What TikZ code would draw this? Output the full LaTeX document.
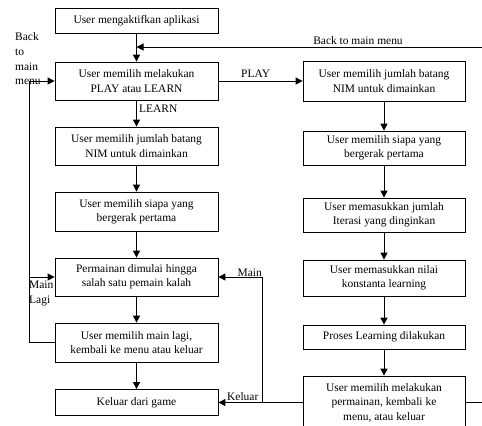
\documentclass[tikz,border=0pt]{standalone}
\usepackage{fontspec}
\setmainfont{Liberation Serif}
\usetikzlibrary{arrows.meta}
\begin{document}
\begin{tikzpicture}[x=1bp,y=-1bp,
  box/.style={draw,line width=0.8bp,inner sep=0pt,align=center,font=\fontsize{11.5}{14.5}\selectfont},
  lbl/.style={inner sep=0pt,font=\fontsize{11.5}{14}\selectfont},
  conn/.style={line width=1bp},
  arr/.style={conn,-{Triangle[length=7bp,width=7bp]}}]
\useasboundingbox[fill=white] (0,0) rectangle (482,425);
% left column
\node[box,minimum width=163bp,minimum height=25bp] (b1) at (136.5,20.5) {User mengaktifkan aplikasi};
\node[box,minimum width=163bp,minimum height=38bp] (b2) at (136.5,81) {User memilih melakukan\\PLAY atau LEARN};
\node[box,minimum width=163bp,minimum height=38bp] (b3) at (136.5,146) {User memilih jumlah batang\\NIM untuk dimainkan};
\node[box,minimum width=163bp,minimum height=39bp] (b4) at (136.5,211.5) {User memilih siapa yang\\bergerak pertama};
\node[box,minimum width=163bp,minimum height=38bp] (b5) at (136.5,277) {Permainan dimulai hingga\\salah satu pemain kalah};
\node[box,minimum width=163bp,minimum height=39bp] (b6) at (136.5,342.5) {User memilih main lagi,\\kembali ke menu atau keluar};
\node[box,minimum width=163bp,minimum height=26bp] (b7) at (136.5,402.5) {Keluar dari game};
% right column
\node[box,minimum width=162bp,minimum height=40bp] (r1) at (384,81) {User memilih jumlah batang\\NIM untuk dimainkan};
\node[box,minimum width=162bp,minimum height=34bp] (r2) at (384,148) {User memilih siapa yang\\bergerak pertama};
\node[box,minimum width=162bp,minimum height=34bp] (r3) at (384,215) {User memasukkan jumlah\\Iterasi yang dinginkan};
\node[box,minimum width=162bp,minimum height=36bp] (r4) at (384,278) {User memasukkan nilai\\konstanta learning};
\node[box,minimum width=162bp,minimum height=24bp] (r5) at (384,337) {Proses Learning dilakukan};
\node[box,minimum width=162bp,minimum height=53bp] (r6) at (384,402.5) {User memilih melakukan\\permainan, kembali ke\\menu, atau keluar};
% coordinates
\coordinate (j1) at (136.5,47);
\coordinate (re1) at (495,402.5);
\coordinate (re2) at (495,47);
\coordinate (l1) at (29,342.5);
\coordinate (l2) at (29,81);
\coordinate (l3) at (29,277);
\coordinate (m1) at (262,402.5);
\coordinate (m2) at (262,277);
% connectors
\draw[arr] (b1) -- (b2);
\draw[arr] (r6.east) -- (re1) -- (re2) -- (j1);
\draw[arr] (b2) -- (r1);
\draw[arr] (b2) -- (b3);
\draw[arr] (b3) -- (b4);
\draw[arr] (b4) -- (b5);
\draw[arr] (b5) -- (b6);
\draw[arr] (b6) -- (b7);
\draw[arr] (r1) -- (r2);
\draw[arr] (r2) -- (r3);
\draw[arr] (r3) -- (r4);
\draw[arr] (r4) -- (r5);
\draw[arr] (r5) -- (r6);
\draw[arr] (b6.west) -- (l1) -- (l2) -- (b2.west);
\draw[arr] (l3) -- (b5.west);
\draw[arr] (r6.west) -- (b7.east);
\draw[arr] (m1) -- (m2) -- (b5.east);
% labels
\node[lbl,anchor=south] (tb) at (358,45) {Back to main menu};
\node[lbl,anchor=base west] (tp) at (241,77) {PLAY};
\node[lbl,anchor=west] (tl) at (139,109) {LEARN};
\node[lbl,anchor=north west,align=left,font=\fontsize{11.5}{15}\selectfont] (tbm) at (15,32) {Back\\to\\main\\menu};
\node[lbl,anchor=north west,align=left,font=\fontsize{11.5}{15}\selectfont] (tml) at (29,281) {Main\\Lagi};
\node[lbl,anchor=base east] (tm) at (262,276) {Main};
\node[lbl,anchor=base west] (tk) at (227,400.5) {Keluar};
\end{tikzpicture}
\end{document}
